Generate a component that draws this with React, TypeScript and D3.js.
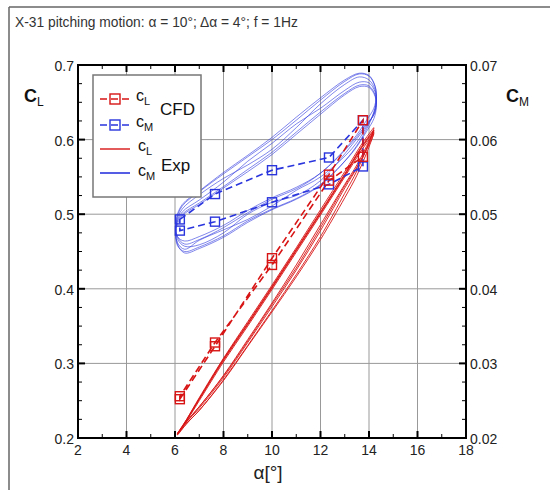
import React from "react";
import * as d3 from "d3";

// ---------- data ----------
const X_TICKS = [2, 4, 6, 8, 10, 12, 14, 16, 18];
const CL_TICKS = [0.2, 0.3, 0.4, 0.5, 0.6, 0.7];
const CM_TICKS = [0.02, 0.03, 0.04, 0.05, 0.06, 0.07];

// CFD (one closed cycle, sampled every 36 deg of phase)
const CFD_ALPHA = [6.2, 7.65, 10, 12.35, 13.75, 13.75, 12.35, 10, 7.65, 6.2];
const CFD_CL = [0.252, 0.323, 0.441, 0.553, 0.626, 0.577, 0.545, 0.432, 0.328, 0.256];
const CFD_CM = [0.0493, 0.0527, 0.0559, 0.0576, 0.0626, 0.0564, 0.054, 0.0516, 0.049, 0.0478];

// Experiment, several recorded cycles
const EXP_CL_ALPHA = [6.1, 6.5, 7, 8, 9, 10, 11, 12, 13, 13.7, 14.1, 14.2, 14.0, 13.5, 13, 12, 11, 10, 9, 8, 7, 6.5];
const EXP_CL_1 = [0.205, 0.225, 0.252, 0.305, 0.353, 0.402, 0.452, 0.502, 0.553, 0.590, 0.608, 0.612, 0.595, 0.562, 0.535, 0.478, 0.425, 0.376, 0.328, 0.281, 0.240, 0.222];
const EXP_CL_2 = [0.206, 0.224, 0.250, 0.302, 0.350, 0.399, 0.449, 0.499, 0.550, 0.586, 0.604, 0.608, 0.593, 0.563, 0.538, 0.482, 0.428, 0.379, 0.330, 0.283, 0.242, 0.223];
const EXP_CL_3 = [0.204, 0.226, 0.254, 0.307, 0.356, 0.405, 0.455, 0.506, 0.557, 0.594, 0.612, 0.616, 0.596, 0.558, 0.528, 0.470, 0.419, 0.371, 0.324, 0.278, 0.237, 0.220];
const EXP_CL_4 = [0.205, 0.225, 0.252, 0.304, 0.352, 0.401, 0.451, 0.501, 0.552, 0.589, 0.606, 0.610, 0.590, 0.552, 0.522, 0.466, 0.416, 0.369, 0.323, 0.277, 0.237, 0.220];
const EXP_CL_5 = [0.206, 0.226, 0.253, 0.306, 0.354, 0.403, 0.453, 0.503, 0.554, 0.591, 0.609, 0.613, 0.598, 0.566, 0.540, 0.486, 0.432, 0.381, 0.332, 0.284, 0.242, 0.223];

const EXP_CM_ALPHA = [6.05, 6.3, 7, 8, 9, 10, 11, 12, 13, 13.6, 14.0, 14.25, 14.3, 14.2, 13.9, 13.3, 12, 11, 10, 9, 8, 7, 6.4, 6.1];
const EXP_CM_1 = [0.0490, 0.0511, 0.0530, 0.0554, 0.0577, 0.0600, 0.0626, 0.0653, 0.0678, 0.0688, 0.0685, 0.0671, 0.0654, 0.0637, 0.0614, 0.0583, 0.0539, 0.0520, 0.0506, 0.0489, 0.0469, 0.0454, 0.0448, 0.0460];
const EXP_CM_2 = [0.0485, 0.0500, 0.0515, 0.0537, 0.0560, 0.0583, 0.0610, 0.0637, 0.0662, 0.0673, 0.0672, 0.0660, 0.0646, 0.0633, 0.0621, 0.0596, 0.0555, 0.0536, 0.0522, 0.0505, 0.0485, 0.0470, 0.0464, 0.0470];
const EXP_CM_3 = [0.0493, 0.0513, 0.0531, 0.0556, 0.0579, 0.0603, 0.0630, 0.0656, 0.0680, 0.0689, 0.0686, 0.0672, 0.0658, 0.0642, 0.0626, 0.0598, 0.0555, 0.0534, 0.0520, 0.0502, 0.0482, 0.0466, 0.0460, 0.0470];
const EXP_CM_4 = [0.0481, 0.0498, 0.0513, 0.0535, 0.0557, 0.0580, 0.0607, 0.0634, 0.0660, 0.0671, 0.0670, 0.0658, 0.0643, 0.0628, 0.0611, 0.0582, 0.0540, 0.0521, 0.0507, 0.0491, 0.0471, 0.0456, 0.0450, 0.0458];
const EXP_CM_5 = [0.0488, 0.0507, 0.0526, 0.0548, 0.0566, 0.0587, 0.0616, 0.0648, 0.0674, 0.0684, 0.0680, 0.0667, 0.0651, 0.0636, 0.0617, 0.0588, 0.0550, 0.0532, 0.0511, 0.0493, 0.0479, 0.0465, 0.0453, 0.0462];
const EXP_CM_6 = [0.0486, 0.0503, 0.0519, 0.0543, 0.0571, 0.0595, 0.0621, 0.0642, 0.0666, 0.0677, 0.0676, 0.0664, 0.0649, 0.0634, 0.0619, 0.0593, 0.0545, 0.0525, 0.0516, 0.0500, 0.0475, 0.0459, 0.0457, 0.0467];

const TITLE = "X-31 pitching motion: \u03b1 = 10\u00b0; \u0394\u03b1 = 4\u00b0; f = 1Hz";

// ---------- style ----------
const RED = "#d81515";
const BLUE = "#2a35dd";
const FONT = "'Liberation Sans', Arial, Helvetica, sans-serif";
const W = 550, H = 490;
const L = 78, R = 466, T = 65, B = 438;

export default function App() {
  const x = d3.scaleLinear().domain([2, 18]).range([L, R]);
  const yL = d3.scaleLinear().domain([0.2, 0.7]).range([B, T]);
  const yM = d3.scaleLinear().domain([0.02, 0.07]).range([B, T]);

  const expLine = (alpha: number[], vals: number[], y: d3.ScaleLinear<number, number>) =>
    d3.line<number>().x((_, i) => x(alpha[i])).y((v) => y(v)).curve(d3.curveCatmullRomClosed.alpha(0.5))(vals) || "";
  const cfdLine = (vals: number[], y: d3.ScaleLinear<number, number>) =>
    d3.line<number>().x((_, i) => x(CFD_ALPHA[i])).y((v) => y(v)).curve(d3.curveLinearClosed)(vals) || "";

  const xMinor = d3.range(3, 18, 2);
  const yMinor = d3.range(0.2, 0.7001, 0.025).filter((v) => Math.abs(v * 10 - Math.round(v * 10)) > 1e-6);
  const gridX = X_TICKS.slice(1, -1);
  const gridY = CL_TICKS.slice(1, -1);

  const expCL = [EXP_CL_1, EXP_CL_2, EXP_CL_3, EXP_CL_4, EXP_CL_5];
  const expCM = [EXP_CM_1, EXP_CM_2, EXP_CM_3, EXP_CM_4, EXP_CM_5, EXP_CM_6];

  const sq = 9;

  return (
    <svg width={W} height={H} style={{ position: "absolute", left: 0, top: 0, background: "#fff" }} fontFamily={FONT}>
      <rect x={0} y={0} width={W} height={H} fill="#fff" />
      {/* outer frame */}
      <line x1={9} y1={7} x2={W} y2={7} stroke="#666" strokeWidth={1.5} />
      <line x1={9} y1={7} x2={9} y2={H} stroke="#666" strokeWidth={1.5} />
      <text x={15} y={27} fontSize={13.8} fill="#333">{TITLE}</text>

      {/* grid */}
      {gridX.map((v) => (
        <line key={"gx" + v} x1={x(v)} x2={x(v)} y1={T} y2={B} stroke="#999" strokeWidth={1} />
      ))}
      {gridY.map((v) => (
        <line key={"gy" + v} x1={L} x2={R} y1={yL(v)} y2={yL(v)} stroke="#999" strokeWidth={1} />
      ))}

      {/* experiment loops */}
      {expCM.map((vals, i) => (
        <path key={"em" + i} d={expLine(EXP_CM_ALPHA, vals, yM)} fill="none" stroke={BLUE} strokeWidth={0.7} opacity={0.85} />
      ))}
      {expCL.map((vals, i) => (
        <path key={"el" + i} d={expLine(EXP_CL_ALPHA, vals, yL)} fill="none" stroke={RED} strokeWidth={1} opacity={0.9} />
      ))}

      {/* CFD */}
      <path d={cfdLine(CFD_CM, yM)} fill="none" stroke={BLUE} strokeWidth={1.6} strokeDasharray="7,4" />
      <path d={cfdLine(CFD_CL, yL)} fill="none" stroke={RED} strokeWidth={1.6} strokeDasharray="7,4" />
      {CFD_CM.map((v, i) => (
        <rect key={"sm" + i} x={x(CFD_ALPHA[i]) - sq / 2} y={yM(v) - sq / 2} width={sq} height={sq} fill="none" stroke={BLUE} strokeWidth={1.4} />
      ))}
      {CFD_CL.map((v, i) => (
        <rect key={"sl" + i} x={x(CFD_ALPHA[i]) - sq / 2} y={yL(v) - sq / 2} width={sq} height={sq} fill="none" stroke={RED} strokeWidth={1.4} />
      ))}

      {/* ticks */}
      {X_TICKS.map((v) => (
        <g key={"xt" + v}>
          <line x1={x(v)} x2={x(v)} y1={B} y2={B - 7} stroke="#000" strokeWidth={2} />
          <line x1={x(v)} x2={x(v)} y1={T} y2={T + 7} stroke="#000" strokeWidth={2} />
          <text x={x(v)} y={450} fontSize={14} textAnchor="middle" dominantBaseline="central" fill="#222">{v}</text>
        </g>
      ))}
      {xMinor.map((v) => (
        <g key={"xm" + v}>
          <line x1={x(v)} x2={x(v)} y1={B} y2={B - 4} stroke="#000" strokeWidth={1} />
          <line x1={x(v)} x2={x(v)} y1={T} y2={T + 4} stroke="#000" strokeWidth={1} />
        </g>
      ))}
      {CL_TICKS.map((v) => (
        <g key={"yt" + v}>
          <line x1={L} x2={L + 7} y1={yL(v)} y2={yL(v)} stroke="#000" strokeWidth={2} />
          <text x={74} y={yL(v) + 1} fontSize={14} textAnchor="end" dominantBaseline="central" fill="#222">{d3.format(".1f")(v)}</text>
        </g>
      ))}
      {CM_TICKS.map((v) => (
        <g key={"ym" + v}>
          <line x1={R} x2={R - 7} y1={yM(v)} y2={yM(v)} stroke="#000" strokeWidth={2} />
          <text x={470} y={yM(v) + 1} fontSize={14} textAnchor="start" dominantBaseline="central" fill="#222">{d3.format(".2f")(v)}</text>
        </g>
      ))}
      {yMinor.map((v) => (
        <g key={"ymn" + v}>
          <line x1={L} x2={L + 4} y1={yL(v)} y2={yL(v)} stroke="#000" strokeWidth={1} />
          <line x1={R} x2={R - 4} y1={yL(v)} y2={yL(v)} stroke="#000" strokeWidth={1} />
        </g>
      ))}

      {/* frame */}
      <rect x={L} y={T} width={R - L} height={B - T} fill="none" stroke="#000" strokeWidth={2} />

      {/* axis titles */}
      <text x={24} y={102} fontSize={18} fontWeight="bold" fill="#111">C<tspan fontSize={12} fontWeight="normal" dy={4}>L</tspan></text>
      <text x={506} y={102} fontSize={18} fontWeight="bold" fill="#111">C<tspan fontSize={12} fontWeight="normal" dy={4}>M</tspan></text>
      <text x={268} y={479} fontSize={19} textAnchor="middle" fill="#222">{"\u03b1[\u00b0]"}</text>

      {/* legend */}
      <rect x={93} y={75} width={108} height={122} fill="#fff" stroke="#777" strokeWidth={1.5} />
      <line x1={100} x2={130} y1={99} y2={99} stroke={RED} strokeWidth={1.6} strokeDasharray="7,4" />
      <rect x={115 - 5} y={99 - 5} width={10} height={10} fill="none" stroke={RED} strokeWidth={1.4} />
      <line x1={100} x2={130} y1={125} y2={125} stroke={BLUE} strokeWidth={1.6} strokeDasharray="7,4" />
      <rect x={115 - 5} y={125 - 5} width={10} height={10} fill="none" stroke={BLUE} strokeWidth={1.4} />
      <line x1={100} x2={130} y1={149} y2={149} stroke={RED} strokeWidth={1.4} />
      <line x1={100} x2={130} y1={173} y2={173} stroke={BLUE} strokeWidth={1.6} />
      <text x={136} y={101} fontSize={16} fill="#111">c<tspan fontSize={11} dy={4}>L</tspan></text>
      <text x={136} y={127} fontSize={16} fill="#111">c<tspan fontSize={11} dy={4}>M</tspan></text>
      <text x={138} y={151} fontSize={16} fill="#111">c<tspan fontSize={11} dy={4}>L</tspan></text>
      <text x={138} y={176} fontSize={16} fill="#111">c<tspan fontSize={11} dy={4}>M</tspan></text>
      <text x={160} y={115} fontSize={17} fill="#111">CFD</text>
      <text x={161} y={171} fontSize={17} fill="#111">Exp</text>
    </svg>
  );
}
